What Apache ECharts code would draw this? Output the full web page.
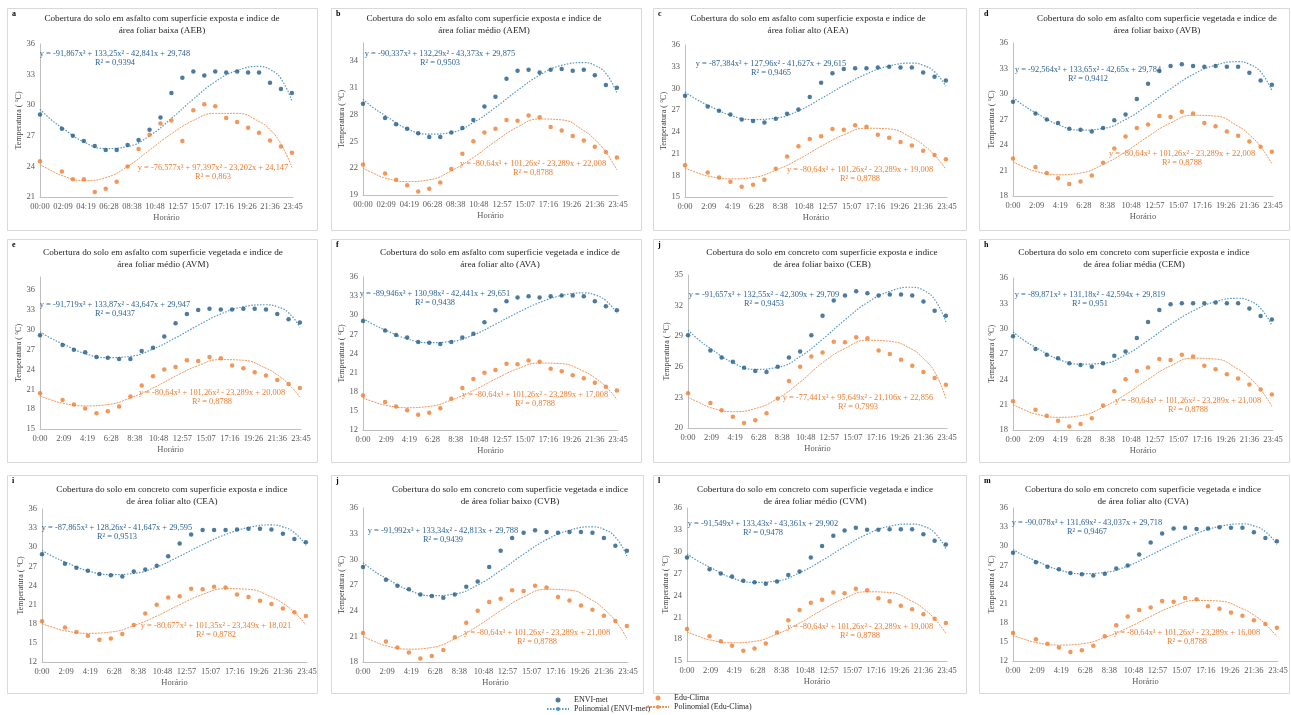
<!DOCTYPE html>
<html><head><meta charset="utf-8">
<script src="https://cdn.jsdelivr.net/npm/echarts@6/dist/echarts.min.js"></script>
<style>html,body{margin:0;padding:0;background:#fff}#c{width:1291px;height:715px}</style>
</head><body><div id="c"></div>
<script>
// ---------- DATA ----------
const hours = [0,2,3,4,5,6,7,8,9,10,11,12,13,14,15,16,17,18,19,20,21,22,23];
const trendHours = [0,1,2,4,6,8,10,12,14,16,18,20,21,22,23];
const xTicksPadded = ['00:00','02:09','04:19','06:28','08:38','10:48','12:57','15:07','17:16','19:26','21:36','23:45'];
const xTicksShort = ['0:00','2:09','4:19','6:28','8:38','10:48','12:57','15:07','17:16','19:26','21:36','23:45'];

const enviAEB = [29.1,27.7,27.0,26.5,26.0,25.6,25.6,26.1,26.6,27.6,28.8,31.2,32.7,33.3,32.9,33.3,33.2,33.3,33.2,33.2,32.2,31.6,31.2];
const enviAEM = [29.2,27.6,26.9,26.4,25.9,25.5,25.5,26.0,26.5,27.4,28.9,30.0,32.0,32.9,33.0,32.7,33.0,33.1,32.9,33.0,32.4,31.3,31.0];
const enviAEA = [29.0,27.5,26.9,26.4,25.7,25.5,25.3,25.8,26.5,27.1,28.8,30.8,32.1,32.7,32.8,32.8,32.9,33.0,32.9,32.9,32.2,31.6,31.1];
const enviAVB = [29.1,27.7,27.0,26.6,25.9,25.8,25.6,26.0,26.9,27.6,29.4,31.2,32.7,33.3,33.5,33.3,33.2,33.3,33.2,33.2,32.5,31.6,31.1];
const enviAVM = [29.2,27.7,27.0,26.6,25.9,25.8,25.6,25.6,26.8,27.3,29.0,31.0,32.4,33.0,33.2,33.1,33.1,33.2,33.2,33.1,32.4,31.6,31.1];
const enviAVA = [29.1,27.6,26.9,26.5,25.8,25.7,25.5,25.8,26.5,27.1,28.9,30.8,32.2,32.8,33.0,32.8,33.0,33.1,33.1,33.0,32.2,31.4,30.8];
const enviCEB = [29.1,27.6,26.9,26.5,25.9,25.6,25.5,26.0,26.9,27.5,29.1,31.0,32.5,33.0,33.4,33.2,33.0,33.1,33.1,33.0,32.4,31.5,31.0];
const enviCEM = [29.1,27.6,26.9,26.5,25.9,25.7,25.5,25.9,26.8,27.3,28.9,30.8,32.2,32.9,33.0,33.0,33.0,33.1,33.0,33.0,32.4,31.5,31.1];
const enviCEA = [28.9,27.4,26.8,26.3,25.8,25.6,25.4,26.2,26.5,27.1,28.6,30.6,32.0,32.7,32.7,32.7,32.8,32.9,32.9,32.8,32.1,31.3,30.8];
const enviCVB = [29.1,27.6,26.9,26.5,25.9,25.7,25.5,25.9,26.8,27.4,29.1,31.0,32.5,33.1,33.4,33.2,33.1,33.2,33.2,33.1,32.5,31.6,31.0];
const enviCVM = [29.2,27.6,27.0,26.6,26.0,25.8,25.6,25.9,26.8,27.3,29.2,30.8,32.2,32.9,33.3,33.0,33.0,33.1,33.1,33.1,32.4,31.5,31.0];
const enviCVA = [29.0,27.5,26.8,26.4,25.8,25.6,25.4,25.7,26.5,27.0,28.7,30.6,32.0,32.8,32.9,32.7,32.8,33.0,32.9,32.9,32.2,31.3,30.8];

const eduAEB = [24.5,23.5,22.75,22.75,21.5,21.8,22.5,24.0,25.7,27.1,28.2,28.5,26.5,29.5,30.1,29.9,28.75,28.35,27.8,27.3,26.55,25.95,25.35];
const eduAEM = [22.4,21.4,20.7,20.1,19.4,19.7,20.4,21.9,23.6,25.0,26.0,26.4,27.4,27.3,27.9,27.7,26.6,26.2,25.6,25.1,24.4,23.8,23.2];
const eduAEA = [19.4,18.4,17.7,17.1,16.4,16.7,17.4,18.9,20.6,22.0,23.0,23.4,24.4,24.3,24.9,24.7,23.6,23.2,22.6,22.1,21.4,20.8,20.2];
const eduAVB = [22.4,21.4,20.7,20.1,19.4,19.7,20.4,21.9,23.6,25.0,26.0,26.4,27.4,27.3,27.9,27.7,26.6,26.2,25.6,25.1,24.4,23.8,23.2];
const eduAVM = [20.4,19.4,18.7,18.1,17.4,17.7,18.4,19.9,21.6,23.0,24.0,24.4,25.4,25.3,25.9,25.7,24.6,24.2,23.6,23.1,22.4,21.8,21.2];
const eduAVA = [17.4,16.4,15.7,15.1,14.4,14.7,15.4,16.9,18.6,20.0,21.0,21.4,22.4,22.3,22.9,22.7,21.6,21.2,20.6,20.1,19.4,18.8,18.2];
const eduCEB = [23.4,22.45,21.75,21.1,20.5,20.75,21.45,22.9,24.6,26.0,27.0,27.4,28.45,28.4,28.9,28.8,27.6,27.25,26.7,26.1,25.5,24.9,24.25];
const eduCEM = [21.4,20.4,19.7,19.1,18.4,18.7,19.4,20.9,22.6,24.0,25.0,25.4,26.4,26.3,26.9,26.7,25.6,25.2,24.6,24.1,23.4,22.8,22.2];
const eduCEA = [18.4,17.4,16.7,16.1,15.5,15.7,16.4,17.8,19.6,21.0,22.1,22.3,23.5,23.4,23.8,23.7,22.6,22.2,21.6,21.1,20.4,19.8,19.2];
const eduCVB = [21.4,20.4,19.7,19.1,18.4,18.7,19.4,20.9,22.6,24.0,25.0,25.4,26.4,26.3,26.9,26.7,25.6,25.2,24.6,24.1,23.4,22.8,22.2];
const eduCVM = [19.4,18.4,17.7,17.1,16.4,16.7,17.4,18.9,20.6,22.0,23.0,23.4,24.4,24.3,24.9,24.7,23.6,23.2,22.6,22.1,21.4,20.8,20.2];
const eduCVA = [16.4,15.4,14.7,14.1,13.4,13.7,14.4,15.9,17.6,19.0,20.0,20.4,21.4,21.3,21.9,21.7,20.6,20.2,19.6,19.1,18.4,17.8,17.2];

// trend lines at trendHours
const polyEnviAEB = [29.6,28.6,27.8,26.4,25.75,25.95,27.0,28.7,30.6,32.3,33.4,33.8,33.5,32.6,30.4];
const polyEnviAEM = [29.7,28.7,27.9,26.4,25.8,26.0,27.1,28.8,30.7,32.4,33.5,33.8,33.5,32.6,30.4];
const polyEnviAEA = [29.5,28.5,27.7,26.3,25.7,25.9,26.9,28.6,30.4,32.0,33.1,33.5,33.2,32.3,30.3];
const polyEnviAVB = [29.6,28.6,27.8,26.4,25.75,25.95,27.0,28.7,30.6,32.3,33.4,33.8,33.5,32.6,30.4];
const polyEnviAVM = [29.7,28.7,27.9,26.4,25.8,26.0,27.1,28.8,30.7,32.4,33.5,33.8,33.5,32.6,30.4];
const polyEnviAVA = [29.5,28.5,27.7,26.3,25.7,25.9,26.9,28.6,30.4,32.0,33.1,33.5,33.2,32.3,30.3];
const polyEnviCEB = [29.6,28.6,27.8,26.4,25.75,25.95,27.0,28.7,30.6,32.3,33.4,33.8,33.5,32.6,30.4];
const polyEnviCEM = [29.6,28.6,27.8,26.4,25.8,25.9,26.9,28.6,30.5,32.1,33.2,33.6,33.3,32.4,30.4];
const polyEnviCEA = [29.5,28.5,27.7,26.3,25.7,25.9,26.9,28.6,30.4,32.0,33.1,33.5,33.2,32.3,30.3];
const polyEnviCVB = [29.6,28.6,27.8,26.4,25.75,25.95,27.0,28.7,30.6,32.3,33.4,33.8,33.5,32.6,30.4];
const polyEnviCVM = [29.7,28.7,27.9,26.4,25.8,26.0,27.1,28.8,30.7,32.4,33.5,33.8,33.5,32.6,30.4];
const polyEnviCVA = [29.5,28.5,27.7,26.3,25.7,25.9,26.9,28.6,30.4,32.0,33.1,33.5,33.2,32.3,30.3];

const polyEduAEB = [24.2,23.6,23.1,22.6,22.9,24.0,25.6,27.2,28.5,29.2,29.2,28.4,27.6,26.2,23.9];
const polyEduAEM = [22.0,21.4,20.9,20.5,20.7,21.7,23.2,25.0,26.6,27.5,27.4,26.2,25.2,23.8,21.8];
const polyEduAEA = [19.0,18.4,17.9,17.5,17.7,18.7,20.2,22.0,23.6,24.5,24.4,23.2,22.2,20.8,18.8];
const polyEduAVB = [22.0,21.4,20.9,20.5,20.7,21.7,23.2,25.0,26.6,27.5,27.4,26.2,25.2,23.8,21.8];
const polyEduAVM = [20.0,19.4,18.9,18.5,18.7,19.7,21.2,23.0,24.6,25.5,25.4,24.2,23.2,21.8,19.8];
const polyEduAVA = [17.0,16.4,15.9,15.5,15.7,16.7,18.2,20.0,21.6,22.5,22.4,21.2,20.2,18.8,16.8];
const polyEduCEB = [23.0,22.5,22.0,21.6,21.9,22.9,24.5,26.4,27.8,28.6,28.5,27.7,26.8,25.5,22.9];
const polyEduCEM = [21.0,20.4,19.9,19.5,19.7,20.7,22.2,24.0,25.6,26.5,26.4,25.2,24.2,22.8,20.8];
const polyEduCEA = [18.0,17.4,16.9,16.5,16.7,17.7,19.2,21.0,22.6,23.5,23.4,22.2,21.2,19.8,17.8];
const polyEduCVB = [21.0,20.4,19.9,19.5,19.7,20.7,22.2,24.0,25.6,26.5,26.4,25.2,24.2,22.8,20.8];
const polyEduCVM = [19.0,18.4,17.9,17.5,17.7,18.7,20.2,22.0,23.6,24.5,24.4,23.2,22.2,20.8,18.8];
const polyEduCVA = [16.0,15.4,14.9,14.5,14.7,15.7,17.2,19.0,20.6,21.5,21.4,20.2,19.2,17.8,15.8];

const letters = ['a','b','c','d','e','f','j','h','i','j','l','m'];
const titles = [
 ['Cobertura do solo em asfalto com superficie exposta e indice de','área foliar baixa (AEB)'],
 ['Cobertura do solo em asfalto com superficie exposta e indice de','área foliar médio (AEM)'],
 ['Cobertura do solo em asfalto com superficie exposta e indice de','área foliar alto (AEA)'],
 ['Cobertura do solo em asfalto com superficie vegetada e indice de','área foliar baixo (AVB)'],
 ['Cobertura do solo em asfalto com superficie vegetada e indice de','área foliar médio (AVM)'],
 ['Cobertura do solo em asfalto com superficie vegetada e indice de','área foliar alto (AVA)'],
 ['Cobertura do solo em concreto com superficie exposta e indice','de área foliar baixo (CEB)'],
 ['Cobertura do solo em concreto com superficie exposta e indice','de área foliar média (CEM)'],
 ['Cobertura do solo em concreto com superficie exposta e indice','de área foliar alto (CEA)'],
 ['Cobertura do solo em concreto com superficie vegetada e indice','de área foliar baixo (CVB)'],
 ['Cobertura do solo em concreto com superficie vegetada e indice','de área foliar médio (CVM)'],
 ['Cobertura do solo em concreto com superficie vegetada e indice','de área foliar alto (CVA)']
];
const eqEnvi = [
 ['y = -91,867x³ + 133,25x² - 42,841x + 29,748','R² = 0,9394'],
 ['y = -90,337x³ + 132,29x² - 43,373x + 29,875','R² = 0,9503'],
 ['y = -87,384x³ + 127,96x² - 41,627x + 29,615','R² = 0,9465'],
 ['y = -92,564x³ + 133,65x² - 42,65x + 29,784','R² = 0,9412'],
 ['y = -91,719x³ + 133,87x² - 43,647x + 29,947','R² = 0,9437'],
 ['y = -89,946x³ + 130,98x² - 42,441x + 29,651','R² = 0,9438'],
 ['y = -91,657x³ + 132,55x² - 42,309x + 29,709','R² = 0,9453'],
 ['y = -89,871x³ + 131,18x² - 42,594x + 29,819','R² = 0,951'],
 ['y = -87,865x³ + 128,26x² - 41,647x + 29,595','R² = 0,9513'],
 ['y = -91,992x³ + 133,34x² - 42,813x + 29,788','R² = 0,9439'],
 ['y = -91,549x³ + 133,43x² - 43,361x + 29,902','R² = 0,9478'],
 ['y = -90,078x³ + 131,69x² - 43,037x + 29,718','R² = 0,9467']
];
const eqEdu = [
 ['y = -76,577x³ + 97,397x² - 23,202x + 24,147','R² = 0,863'],
 ['y = -80,64x³ + 101,26x² - 23,289x + 22,008','R² = 0,8788'],
 ['y = -80,64x³ + 101,26x² - 23,289x + 19,008','R² = 0,8788'],
 ['y = -80,64x³ + 101,26x² - 23,289x + 22,008','R² = 0,8788'],
 ['y = -80,64x³ + 101,26x² - 23,289x + 20,008','R² = 0,8788'],
 ['y = -80,64x³ + 101,26x² - 23,289x + 17,008','R² = 0,8788'],
 ['y = -77,441x³ + 95,649x² - 21,106x + 22,856','R² = 0,7993'],
 ['y = -80,64x³ + 101,26x² - 23,289x + 21,008','R² = 0,8788'],
 ['y = -80,677x³ + 101,35x² - 23,349x + 18,021','R² = 0,8782'],
 ['y = -80,64x³ + 101,26x² - 23,289x + 21,008','R² = 0,8788'],
 ['y = -80,64x³ + 101,26x² - 23,289x + 19,008','R² = 0,8788'],
 ['y = -80,64x³ + 101,26x² - 23,289x + 16,008','R² = 0,8788']
];
const enviSets = [enviAEB,enviAEM,enviAEA,enviAVB,enviAVM,enviAVA,enviCEB,enviCEM,enviCEA,enviCVB,enviCVM,enviCVA];
const eduSets = [eduAEB,eduAEM,eduAEA,eduAVB,eduAVM,eduAVA,eduCEB,eduCEM,eduCEA,eduCVB,eduCVM,eduCVA];
const polyEnviSets = [polyEnviAEB,polyEnviAEM,polyEnviAEA,polyEnviAVB,polyEnviAVM,polyEnviAVA,polyEnviCEB,polyEnviCEM,polyEnviCEA,polyEnviCVB,polyEnviCVM,polyEnviCVA];
const polyEduSets = [polyEduAEB,polyEduAEM,polyEduAEA,polyEduAVB,polyEduAVM,polyEduAVA,polyEduCEB,polyEduCEM,polyEduCEA,polyEduCVB,polyEduCVM,polyEduCVA];
const yMins = [21,19,15,18,15,12,20,18,12,18,15,12];
const yMaxs = [36,36,36,36,38,36,35,36,36,36,36,36];

// ---------- LAYOUT ----------
const layout = [
 {box:[7,8,310,222],  grid:[40,44,253,153],  title:[162,19],  eqE:[115,54],  eqO:[213,168], ticks:xTicksPadded},
 {box:[331,8,310,222],grid:[363,43,255,152], title:[484,19],  eqE:[440,54],  eqO:[533,164], ticks:xTicksPadded},
 {box:[653,8,313,222],grid:[685,45,262,152], title:[808,19],  eqE:[771,64],  eqO:[860,170], ticks:xTicksShort},
 {box:[979,8,310,222],grid:[1013,43,260,153],title:[1157,19], eqE:[1088,70], eqO:[1182,154],ticks:xTicksShort},
 {box:[7,239,310,223],grid:[40,277,261,152], title:[163,253], eqE:[115,305], eqO:[212,393], ticks:xTicksShort},
 {box:[331,239,310,223],grid:[363,277,255,153],title:[500,253],eqE:[435,294], eqO:[535,395], ticks:xTicksShort},
 {box:[653,239,313,223],grid:[688,275,259,153],title:[822,253],eqE:[764,295], eqO:[858,398], ticks:xTicksShort},
 {box:[979,239,310,223],grid:[1013,278,260,152],title:[1134,253],eqE:[1090,295],eqO:[1188,401],ticks:xTicksShort},
 {box:[7,475,310,218],grid:[42,509,265,153], title:[172,490], eqE:[117,528], eqO:[216,626], ticks:xTicksShort},
 {box:[331,475,312,218],grid:[363,508,265,154],title:[510,490],eqE:[443,531], eqO:[537,633], ticks:xTicksShort},
 {box:[653,475,313,218],grid:[687,508,260,153],title:[815,490],eqE:[763,524], eqO:[860,627], ticks:xTicksShort},
 {box:[979,475,310,218],grid:[1013,508,265,153],title:[1143,490],eqE:[1087,523],eqO:[1187,633],ticks:xTicksShort}
];

const SERIF = '"Liberation Serif","Times New Roman",serif';
const BLUE = '#1F5A87', BLUE_LINE = '#5596C0', ORANGE = '#ED7D31', ORANGE_LINE = '#F0975A';
const AX_TXT = '#595959';
const grids = [], xAxes = [], yAxes = [], series = [], graphics = [];

function txt(x, y, text, font, fill, align) {
  return {type:'text', x:x, y:y, silent:true, z:50,
    style:{text:text, font:font, fill:fill, align:align||'center', verticalAlign:'middle'}};
}

layout.forEach((L, k) => {
  const yMin = yMins[k], yMax = yMaxs[k];
  grids.push({left:L.grid[0], top:L.grid[1], width:L.grid[2], height:L.grid[3]});
  xAxes.push({type:'value', gridIndex:k, min:0, max:23.1, interval:2.1,
    name:'Horário', nameLocation:'middle', nameGap:16,
    nameTextStyle:{fontFamily:SERIF, fontSize:8.5, color:AX_TXT},
    axisLine:{show:true, lineStyle:{color:'#BFBFBF', width:1}},
    axisTick:{show:false}, splitLine:{show:false},
    axisLabel:{fontFamily:SERIF, fontSize:8.5, color:AX_TXT, margin:5,
      formatter: v => { const i = Math.round(v/2.1); return L.ticks[i] || ''; }}
  });
  yAxes.push({type:'value', gridIndex:k, min:yMin, max:yMax, interval:3,
    name:'Temperatura ( °C)', nameLocation:'middle', nameGap:17,
    nameTextStyle:{fontFamily:SERIF, fontSize:8, color:'#404040'},
    axisLine:{show:true, lineStyle:{color:'#BFBFBF', width:1}},
    axisTick:{show:false}, splitLine:{show:false},
    axisLabel:{fontFamily:SERIF, fontSize:8.5, color:AX_TXT, margin:5,
      formatter: v => ((Math.round(v) - yMin) % 3 === 0 ? String(Math.round(v)) : '')}
  });
  series.push({name:'Polinomial (ENVI-met)', type:'line', xAxisIndex:k, yAxisIndex:k,
    data: trendHours.map((h,i)=>[h, polyEnviSets[k][i]]), smooth:0.5, symbol:'none',
    lineStyle:{color:BLUE_LINE, width:1.2, type:[1.5,1.5]}, itemStyle:{color:BLUE_LINE}, z:2, silent:true});
  series.push({name:'Polinomial (Edu-Clima)', type:'line', xAxisIndex:k, yAxisIndex:k,
    data: trendHours.map((h,i)=>[h, polyEduSets[k][i]]), smooth:0.5, symbol:'none',
    lineStyle:{color:ORANGE_LINE, width:1, type:[2,1]}, itemStyle:{color:ORANGE_LINE}, z:2, silent:true});
  series.push({name:'ENVI-met', type:'scatter', xAxisIndex:k, yAxisIndex:k,
    data: hours.map((h,i)=>[h, enviSets[k][i]]), symbol:'circle', symbolSize:4.5,
    itemStyle:{color:BLUE}, z:3, silent:true});
  series.push({name:'Edu-Clima', type:'scatter', xAxisIndex:k, yAxisIndex:k,
    data: hours.map((h,i)=>[h, eduSets[k][i]]), symbol:'circle', symbolSize:4.5,
    itemStyle:{color:ORANGE}, z:3, silent:true});

  graphics.push({type:'rect', silent:true, z:0,
    shape:{x:L.box[0]+0.5, y:L.box[1]+0.5, width:L.box[2], height:L.box[3]},
    style:{fill:'#FFFFFF', stroke:'#D9D9D9', lineWidth:1}});
  graphics.push(txt(L.box[0]+5, L.box[1]+6, letters[k], 'bold 8px '+SERIF, '#000000', 'left'));
  graphics.push(txt(L.title[0], L.title[1], titles[k][0], '9.2px '+SERIF, '#262626'));
  graphics.push(txt(L.title[0], L.title[1]+11.5, titles[k][1], '9.2px '+SERIF, '#262626'));
  graphics.push(txt(L.eqE[0], L.eqE[1], eqEnvi[k][0], '8.4px '+SERIF, '#2F6496'));
  graphics.push(txt(L.eqE[0], L.eqE[1]+9, eqEnvi[k][1], '8.4px '+SERIF, '#2F6496'));
  graphics.push(txt(L.eqO[0], L.eqO[1], eqEdu[k][0], '8.4px '+SERIF, ORANGE));
  graphics.push(txt(L.eqO[0], L.eqO[1]+9, eqEdu[k][1], '8.4px '+SERIF, ORANGE));
});

const chart = echarts.init(document.getElementById('c'), null, {renderer:'canvas', width:1291, height:715});
chart.setOption({
  backgroundColor:'#FFFFFF',
  animation:false,
  grid:grids, xAxis:xAxes, yAxis:yAxes, series:series,
  graphic:{elements:graphics},
  legend:[
    {data:['ENVI-met','Polinomial (ENVI-met)'], orient:'vertical', left:546, top:696, itemGap:1,
     itemWidth:22, itemHeight:5, selectedMode:false, padding:0,
     textStyle:{fontFamily:SERIF, fontSize:8, color:'#262626'}},
    {data:['Edu-Clima','Polinomial (Edu-Clima)'], orient:'vertical', left:646, top:694, itemGap:1,
     itemWidth:22, itemHeight:5, selectedMode:false, padding:0,
     textStyle:{fontFamily:SERIF, fontSize:8, color:'#262626'}}
  ]
});
</script>
</body></html>
